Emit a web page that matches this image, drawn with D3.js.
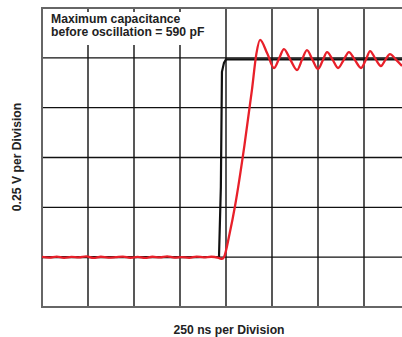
<!DOCTYPE html>
<html>
<head>
<meta charset="utf-8">
<script src="https://cdn.jsdelivr.net/npm/d3@7"></script>
<style>
body{margin:0;background:#fff;}
text{font-family:"Liberation Sans",Arial,sans-serif;font-weight:bold;fill:#222;}
</style>
</head>
<body>
<div id="chart"></div>
<script>
// time in ns, voltage in V
let xTicks = [0,250,500,750,1000,1250,1500,1750,2000]
let yTicks = [0,0.25,0.5,0.75,1,1.25,1.5]

let inputT = [0,120,240,360,480,600,720,840,962,972,978,989,1000,1200,1400,1600,1800,2000]
let inputV = [0.25,0.25,0.25,0.25,0.25,0.25,0.25,0.25,0.252,0.6,1.18,1.225,1.242,1.242,1.242,1.242,1.242,1.242]

let outputT = [0,40,80,120,160,200,240,280,320,360,400,440,480,520,560,600,640,680,720,760,800,840,880,920,960,978,989,1020,1049,1100,1141,1165,1185,1225,1261,1290,1315,1350,1386,1413,1440,1470,1500,1525,1549,1580,1609,1640,1668,1700,1734,1760,1783,1812,1842,1866,1891,1925,1957]
let outputV = [0.252,0.248,0.253,0.247,0.251,0.249,0.254,0.246,0.252,0.248,0.25,0.253,0.247,0.251,0.246,0.252,0.249,0.254,0.248,0.25,0.247,0.253,0.249,0.252,0.246,0.241,0.25,0.37,0.507,0.81,1.089,1.27,1.34,1.27,1.199,1.25,1.294,1.24,1.189,1.24,1.289,1.24,1.194,1.235,1.279,1.24,1.199,1.24,1.279,1.24,1.199,1.24,1.284,1.245,1.209,1.24,1.269,1.24,1.209]

let svg = d3.select('#chart').append('svg').attr('width',402).attr('height',337)

let xscale = d3.scaleLinear().domain([0,2000]).range([42,410])
let yscale = d3.scaleLinear().domain([0,1.5]).range([307,8])

// grid
svg.append('g').selectAll('line.v').data(xTicks.slice(1,-1)).enter().append('line')
	.attr('x1',d=>xscale(d)).attr('x2',d=>xscale(d))
	.attr('y1',yscale(1.5)).attr('y2',yscale(0))
	.attr('stroke','#111').attr('stroke-width',1.4)
svg.append('g').selectAll('line.h').data(yTicks.slice(1,-1)).enter().append('line')
	.attr('x1',xscale(0)).attr('x2',xscale(2000))
	.attr('y1',d=>yscale(d)).attr('y2',d=>yscale(d))
	.attr('stroke','#111').attr('stroke-width',1.4)
// frame
svg.append('rect').attr('x',xscale(0)).attr('y',yscale(1.5))
	.attr('width',xscale(2000)-xscale(0)).attr('height',yscale(0)-yscale(1.5))
	.attr('fill','none').attr('stroke','#666').attr('stroke-width',2)

// note box
svg.append('rect').attr('x',45).attr('y',12).attr('width',164).attr('height',33).attr('fill','#fff')
svg.append('text').attr('x',51).attr('y',23).style('font-size','12.2px').text('Maximum capacitance')
svg.append('text').attr('x',51).attr('y',36).style('font-size','12.2px').text('before oscillation = 590 pF')

let inputData = inputT.map((t,i)=>[t,inputV[i]])
let outputData = outputT.map((t,i)=>[t,outputV[i]])

let line = d3.line().x(d=>xscale(d[0])).y(d=>yscale(d[1]))
svg.append('path').datum(inputData).attr('fill','none').attr('stroke','#111').attr('stroke-width',2.2)
	.attr('d',line)
svg.append('path').datum(outputData).attr('fill','none').attr('stroke','#e8202a').attr('stroke-width',2.3)
	.attr('d',line.curve(d3.curveMonotoneX))

svg.append('text').attr('x',229).attr('y',334).style('text-anchor','middle').style('font-size','12.2px')
	.text('250 ns per Division')
svg.append('text').attr('transform','translate(21,157) rotate(-90)').style('text-anchor','middle').style('font-size','12.2px')
	.text('0.25 V per Division')
</script>
</body>
</html>
